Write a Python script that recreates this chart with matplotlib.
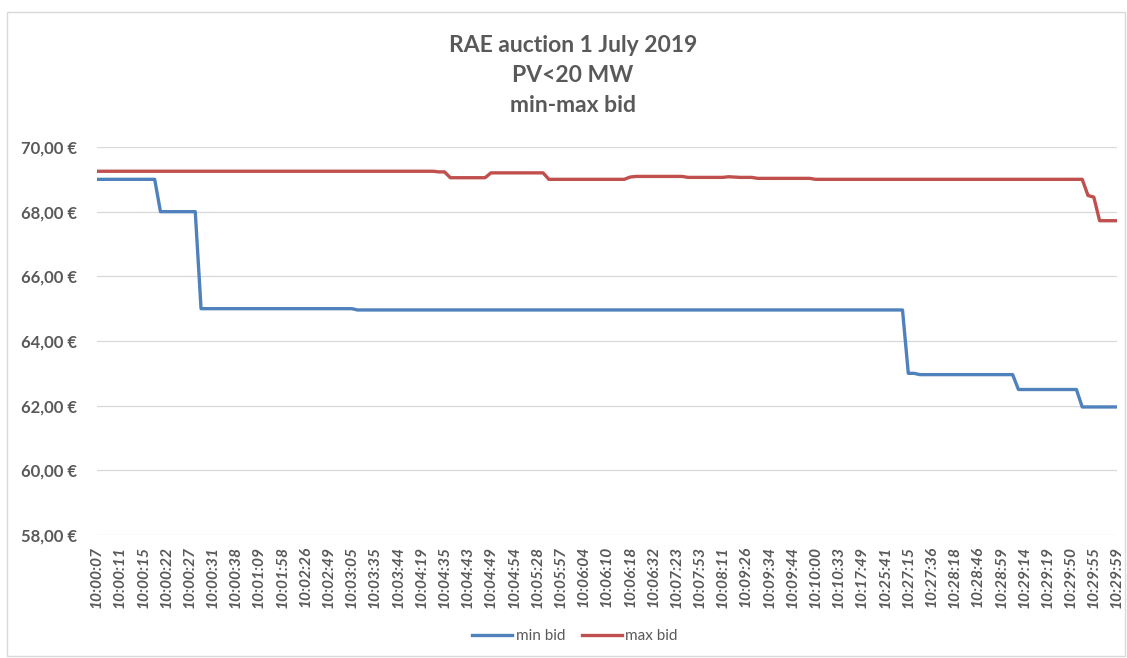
"""
RAE auction 1 July 2019 - min/max bid line chart
"""

import numpy as np
import matplotlib

matplotlib.use("Agg")  # noqa: E402
import matplotlib.pyplot as plt  # noqa: E402
from matplotlib.patches import Rectangle  # noqa: E402
from matplotlib.ticker import FuncFormatter  # noqa: E402

# tick labels shown on the category axis (every 4th bid time)
time_labels = [
    "10:00:07", "10:00:11", "10:00:15", "10:00:22", "10:00:27", "10:00:31", "10:00:38",
    "10:01:09", "10:01:58", "10:02:26", "10:02:49", "10:03:05", "10:03:35", "10:03:44",
    "10:04:19", "10:04:35", "10:04:43", "10:04:49", "10:04:54", "10:05:28", "10:05:57",
    "10:06:04", "10:06:10", "10:06:18", "10:06:32", "10:07:23", "10:07:53", "10:08:11",
    "10:09:26", "10:09:34", "10:09:44", "10:10:00", "10:10:33", "10:17:49", "10:25:41",
    "10:27:15", "10:27:36", "10:28:18", "10:28:46", "10:28:59", "10:29:14", "10:29:19",
    "10:29:50", "10:29:55", "10:29:59",
]
label_every = 4

# bid levels as (price, number of consecutive bids)
min_bid_runs = [
    (69.00, 11), (68.00, 7), (65.00, 27), (64.96, 95),
    (63.00, 2), (62.96, 17), (62.50, 11), (61.96, 7),
]
max_bid_runs = [
    (69.25, 59), (69.23, 2), (69.05, 7), (69.20, 10), (69.00, 14),
    (69.07, 1), (69.09, 9), (69.06, 7), (69.08, 1), (69.07, 1),
    (69.06, 3), (69.03, 10), (69.00, 47), (68.50, 1), (68.45, 1), (67.72, 4),
]


def expand(runs):
    values = [v for v, _ in runs]
    counts = [n for _, n in runs]
    return np.repeat(values, counts)


min_bid = expand(min_bid_runs)
max_bid = expand(max_bid_runs)
x = np.arange(len(min_bid))

W, H = 1127, 658
TEXT = "#595959"
GRID = "#D9D9D9"
plt.rcParams["font.family"] = ["Lato", "DejaVu Sans"]

fig = plt.figure(figsize=(W / 100, H / 100), dpi=100)
fig.patch.set_facecolor("white")

# chart border
fig.patches.append(
    Rectangle((6.5 / W, 1 - 656 / H), (1125 - 6.5) / W, (656 - 12) / H,
              transform=fig.transFigure, facecolor="none", edgecolor=GRID, linewidth=1)
)

ax = fig.add_axes([96.7 / W, 1 - 535 / H, (1117 - 96.7) / W, (535 - 147) / H])
ax.plot(x, min_bid, color="#4F81BD", linewidth=2.4, label="min bid", solid_joinstyle="round")
ax.plot(x, max_bid, color="#C0504D", linewidth=2.4, label="max bid", solid_joinstyle="round")

ax.set_xlim(0, len(x) - 1)
ax.set_ylim(58, 70)
ax.set_yticks(np.arange(58, 70.1, 2))
ax.yaxis.set_major_formatter(FuncFormatter(lambda v, p: f"{v:.2f}".replace(".", ",") + " €"))
ax.set_xticks(x[::label_every])
ax.set_xticklabels(time_labels, rotation=90, fontstyle="italic", fontweight="bold")

ax.grid(axis="y", color=GRID, linewidth=0.9)
ax.set_axisbelow(True)
for s in ax.spines.values():
    s.set_visible(False)
ax.tick_params(axis="x", length=0, pad=8, labelsize=11.2, colors=TEXT)
ax.tick_params(axis="y", length=0, pad=14, labelsize=12, colors=TEXT)
for lbl in ax.get_yticklabels():
    lbl.set_fontweight("bold")

# three-line title
title_lines = ["RAE auction 1 July 2019", "PV<20 MW", "min-max bid"]
for i, line in enumerate(title_lines):
    fig.text(573 / W, 1 - (45 + 30.5 * i) / H, line, ha="center", va="center",
             fontsize=16.5, fontweight="bold", color=TEXT)

fig.legend(loc="center", bbox_to_anchor=(575 / W, 1 - 636 / H), ncol=2, frameon=False,
           fontsize=11, labelcolor=TEXT, handlelength=2.6, handletextpad=0.25, columnspacing=1.1)

fig.savefig("out.png", dpi=100, facecolor="white")
plt.close(fig)
